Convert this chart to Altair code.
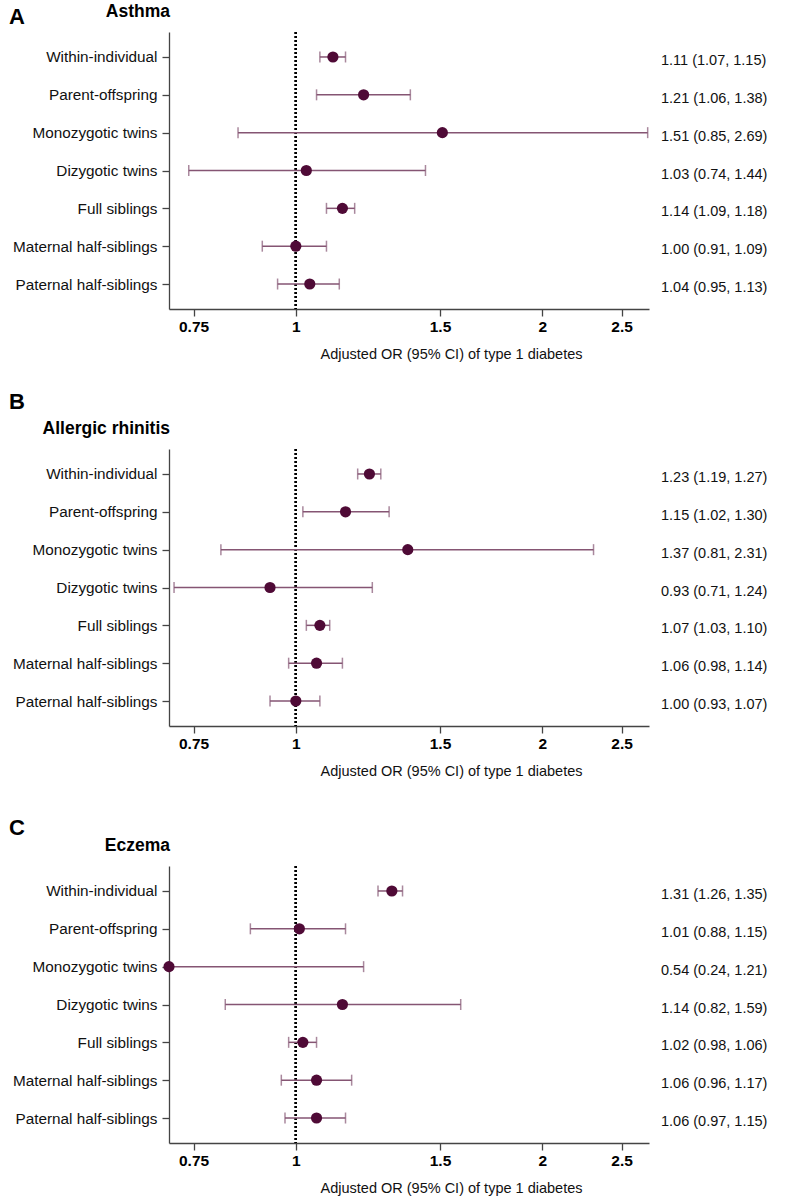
import altair as alt
import pandas as pd

# Relationship groups (rows, top to bottom)
GROUPS = [
    "Within-individual",
    "Parent-offspring",
    "Monozygotic twins",
    "Dizygotic twins",
    "Full siblings",
    "Maternal half-siblings",
    "Paternal half-siblings",
]

# Adjusted odds ratios with 95% CI, by exposure
ASTHMA_OR = [1.11, 1.21, 1.51, 1.03, 1.14, 1.00, 1.04]
ASTHMA_LO = [1.07, 1.06, 0.85, 0.74, 1.09, 0.91, 0.95]
ASTHMA_HI = [1.15, 1.38, 2.69, 1.44, 1.18, 1.09, 1.13]

RHINITIS_OR = [1.23, 1.15, 1.37, 0.93, 1.07, 1.06, 1.00]
RHINITIS_LO = [1.19, 1.02, 0.81, 0.71, 1.03, 0.98, 0.93]
RHINITIS_HI = [1.27, 1.30, 2.31, 1.24, 1.10, 1.14, 1.07]

ECZEMA_OR = [1.31, 1.01, 0.54, 1.14, 1.02, 1.06, 1.06]
ECZEMA_LO = [1.26, 0.88, 0.24, 0.82, 0.98, 0.96, 0.97]
ECZEMA_HI = [1.35, 1.15, 1.21, 1.59, 1.06, 1.17, 1.15]

TICK_VALUES = [0.75, 1, 1.5, 2, 2.5]
TICK_LABELS = ["0.75", "1", "1.5", "2", "2.5"]
X_DOMAIN = [0.7, 2.7]
X_TITLE = "Adjusted OR (95% CI) of type 1 diabetes"

FONT = "Liberation Sans"
POINT_COLOR = "#4f0a36"
CI_COLOR = "#855573"
AXIS_COLOR = "#444444"

W, H = 480, 277

label_expr = " : ".join(
    f"datum.value == {v} ? '{t}'" for v, t in zip(TICK_VALUES, TICK_LABELS)
) + " : ''"

x_scale = alt.Scale(type="log", domain=X_DOMAIN, nice=False, clamp=True, zero=False)
x_axis = alt.Axis(
    values=TICK_VALUES,
    labelExpr=label_expr,
    title=X_TITLE,
    grid=False,
    tickSize=7,
    labelPadding=3,
    labelFontWeight="bold",
    labelFontSize=15.5,
    labelColor="#000000",
    titleFontSize=14.5,
    titleFontWeight="normal",
    titleColor="#111111",
    titleX=282,
    titleY=45,
    titleAlign="center",
    titleBaseline="middle",
    domainColor=AXIS_COLOR,
    tickColor=AXIS_COLOR,
    domainWidth=1.3,
    tickWidth=1.3,
)
y_enc = alt.Y(
    "group:N",
    sort=GROUPS,
    scale=alt.Scale(type="point", padding=0.66),
    axis=alt.Axis(
        title=None,
        grid=False,
        tickSize=7,
        labelPadding=5,
        labelFontSize=15.3,
        labelColor="#111111",
        domainColor=AXIS_COLOR,
        tickColor=AXIS_COLOR,
        domainWidth=1.3,
        tickWidth=1.3,
    ),
)


def panel(letter, title, ors, los, his, letter_y):
    df = pd.DataFrame({"group": GROUPS, "or": ors, "lo": los, "hi": his})
    df["label"] = [f"{o:.2f} ({l:.2f}, {h:.2f})" for o, l, h in zip(ors, los, his)]
    base = alt.Chart(df)

    ref = base.mark_rule(color="#000000", strokeDash=[2, 2], strokeWidth=2).encode(
        x=alt.datum(1, scale=x_scale, axis=x_axis)
    )
    ci = base.mark_rule(color=CI_COLOR, strokeWidth=1.5).encode(
        x=alt.X("lo:Q", scale=x_scale, axis=x_axis), x2="hi:Q", y=y_enc
    )
    cap_lo = base.mark_tick(color=CI_COLOR, thickness=1.5, size=11).encode(
        x=alt.X("lo:Q", scale=x_scale, axis=x_axis), y=y_enc
    )
    cap_hi = base.mark_tick(color=CI_COLOR, thickness=1.5, size=11).encode(
        x=alt.X("hi:Q", scale=x_scale, axis=x_axis), y=y_enc
    )
    pts = base.mark_circle(size=125, color=POINT_COLOR, opacity=1).encode(
        x=alt.X("or:Q", scale=x_scale, axis=x_axis), y=y_enc
    )
    labels = base.mark_text(
        align="left", baseline="middle", dy=4, fontSize=14.5, font=FONT, color="#111111"
    ).encode(x=alt.value(W + 12), y=y_enc, text="label:N")

    head = alt.Chart(pd.DataFrame({"letter": [letter], "title": [title]}))
    letter_t = head.mark_text(
        align="left", baseline="middle", fontSize=22, fontWeight="bold", font=FONT, color="#000000"
    ).encode(x=alt.value(-160), y=alt.value(letter_y), text="letter:N")
    title_t = head.mark_text(
        align="right", baseline="middle", fontSize=17.5, fontWeight="bold", font=FONT, color="#000000"
    ).encode(x=alt.value(1), y=alt.value(-20), text="title:N")

    return alt.layer(ref, ci, cap_lo, cap_hi, pts, labels, letter_t, title_t).properties(
        width=W, height=H
    )


chart = alt.vconcat(
    panel("A", "Asthma", ASTHMA_OR, ASTHMA_LO, ASTHMA_HI, -15),
    panel("B", "Allergic rhinitis", RHINITIS_OR, RHINITIS_LO, RHINITIS_HI, -47),
    panel("C", "Eczema", ECZEMA_OR, ECZEMA_LO, ECZEMA_HI, -38),
    spacing=140,
    bounds="flush",
).properties(
    padding={"left": 9, "top": 3, "right": 10, "bottom": 5}
).configure(
    font=FONT
).configure_view(
    strokeWidth=0, stroke="transparent"
).configure_axis(
    labelFont=FONT, titleFont=FONT
)

chart.save("out.html", embed_options={"renderer": "svg", "actions": False})
